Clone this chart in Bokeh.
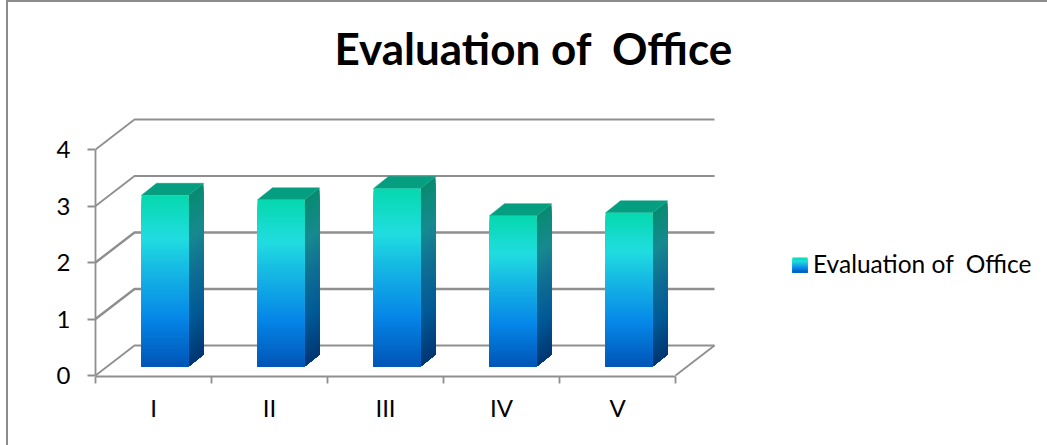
from bokeh.plotting import figure
from bokeh.models import (FixedTicker, Legend, LegendItem, LinearAxis, Range1d)
from bokeh.core.properties import value
from bokeh.embed import file_html
from bokeh.resources import INLINE
import numpy as np

categories = ["I", "II", "III", "IV", "V"]
values = [3.03, 2.95, 3.15, 2.67, 2.72]
y_ticks = [0, 1, 2, 3, 4]
title_text = "Evaluation of  Office"

W, H = 1047, 445
L, R, T, B = 95, 1047, 0, 376
Y0 = 375.0
PX_X, PX_Y = 116.0, 56.5
GRID = "#8F8F8F"
TEXT = "#000000"
FONT = "Lato"

def X(px): return 0.5 + (px - L) / PX_X
def Y(px): return (Y0 - px) / PX_Y
dxw, dyw = 39 / PX_X, 30 / PX_Y          # wall depth
dxb, dyb = 11.5 / PX_X, 9 / PX_Y         # bar set-back
dxd, dyd = 15 / PX_X, 12 / PX_Y          # bar depth
half = 23.5 / PX_X

front_stops = [(0, "#05D8AE"), (.25, "#20DDE0"), (.47, "#14B2E4"), (.72, "#0586E8"), (1, "#0055B5")]
side_stops = [(0, "#078B70"), (.25, "#178A90"), (.47, "#0F6E94"), (.72, "#005A97"), (1, "#003672")]
top_color = "#069E80"

def rgb(h): return np.array([int(h[i:i+2], 16) for i in (1, 3, 5)], float)
def ramp(stops, f):
    fs = [s[0] for s in stops]
    cs = np.array([rgb(s[1]) for s in stops])
    c = [np.interp(f, fs, cs[:, k]) for k in range(3)]
    return "#%02x%02x%02x" % tuple(int(round(v)) for v in c)

p = figure(width=W, height=H, output_backend="svg", toolbar_location=None,
           x_range=Range1d(0.5, X(R)), y_range=Range1d(Y(B), Y(T)),
           min_border_left=L, min_border_right=0, min_border_top=T, min_border_bottom=H - B,
           outline_line_color=None, x_axis_type=None, y_axis_type=None, title=None,
           border_fill_color=None, background_fill_color=None)
# slide border: a thin grey rule down the left and along the top of the page
p.styles = {
    "background-image": "linear-gradient(#8C8C8C,#8C8C8C),linear-gradient(#8C8C8C,#8C8C8C)",
    "background-size": "2px 100%,100% 2px",
    "background-position": "6px 1px,6px 0px",
    "background-repeat": "no-repeat",
}
p.grid.visible = False

# walls and gridlines
n_cat = len(categories)
x_start, x_end = 0.5, 0.5 + n_cat
for v in y_ticks:
    wid = 1.8 if v in (0, 3, 4) else 2.4
    p.line([x_start, x_start + dxw, x_end + dxw], [v, v + dyw, v + dyw], line_color=GRID, line_width=wid)
p.line([x_end, x_end + dxw], [0, dyw], line_color=GRID, line_width=1.8)

# bars: each band runs from its top down to the bar foot, so later bands overpaint without seams
N = 60
fl, fr, ft, fb, fc = [], [], [], [], []
sx, sy, sc = [], [], []
tx, ty = [], []
for i, v in enumerate(values):
    xc = i + 1 + dxb
    x0, x1 = xc - half, xc + half
    y0 = dyb
    y1 = dyb + v
    for k in range(N):
        a = k / N
        ya = y1 - (y1 - y0) * a
        fl.append(x0); fr.append(x1); ft.append(ya); fb.append(y0)
        fc.append(ramp(front_stops, a + 0.5 / N))
        sx.append([x1, x1 + dxd, x1 + dxd, x1])
        sy.append([ya, ya + dyd, y0 + dyd, y0])
        sc.append(ramp(side_stops, a + 0.5 / N))
    tx.append([x0, x0 + dxd, x1 + dxd, x1])
    ty.append([y1, y1 + dyd, y1 + dyd, y1])

p.patches(sx, sy, fill_color=sc, line_color=None)
p.patches(tx, ty, fill_color=top_color, line_color=top_color, line_width=0.5)
bars = p.quad(left=fl, right=fr, top=ft, bottom=fb, fill_color=fc, line_color=None)

# axes
yax = LinearAxis(ticker=FixedTicker(ticks=y_ticks), bounds=(0, 4), axis_line_color=GRID, axis_line_width=1.8,
                 major_tick_line_color=GRID, major_tick_line_width=1.8, major_tick_in=0, major_tick_out=8,
                 minor_tick_line_color=None, major_label_text_font=FONT, major_label_text_font_size="24px",
                 major_label_text_color=TEXT, major_label_standoff=17)
p.add_layout(yax, "left")

edges = [0.5 + k for k in range(n_cat + 1)]
xax = LinearAxis(ticker=FixedTicker(ticks=edges), bounds=(x_start, x_end), axis_line_color=GRID, axis_line_width=1.8,
                 major_tick_line_color=GRID, major_tick_line_width=1.8, major_tick_in=0, major_tick_out=7,
                 minor_tick_line_color=None, major_label_overrides={e: "" for e in edges},
                 major_label_text_font_size="1px", major_label_standoff=0)
p.add_layout(xax, "below")
centers = list(range(1, n_cat + 1))
xlab = LinearAxis(ticker=FixedTicker(ticks=centers), axis_line_color=None, major_tick_line_color=None,
                  minor_tick_line_color=None, major_label_overrides=dict(zip(centers, categories)),
                  major_label_text_font=FONT, major_label_text_font_size="24px",
                  major_label_text_color=TEXT, major_label_standoff=3)
p.add_layout(xlab, "below")

# title: a no-break space keeps the double gap that SVG text would otherwise collapse
p.text(x=[X(334)], y=[Y(47)], text=[title_text.replace("  ", " \u00a0")], text_font=value(FONT),
       text_font_style="bold", text_font_size="44px", text_color=TEXT,
       text_align="left", text_baseline="alphabetic")

# legend: the swatch is painted by gradient bands; the legend's own glyph is transparent
M = 15
for k in range(M):
    c = ramp(front_stops, (k + 0.5) / M)
    p.quad(left=[X(792)], right=[X(807)], top=[Y(257 + k)], bottom=[Y(272)],
           fill_color=c, line_color=None)
swatch = p.quad(left=[X(792)], right=[X(807)], top=[Y(257)], bottom=[Y(272)],
                fill_color=front_stops[1][1], fill_alpha=0, line_alpha=0)
legend = Legend(items=[LegendItem(label=title_text, renderers=[swatch])], location=(792 - L, B - 278),
                orientation="vertical", border_line_color=None, background_fill_alpha=0,
                padding=0, margin=0, glyph_width=15, glyph_height=15, label_standoff=6,
                label_text_font=FONT, label_text_font_size="24.5px", label_text_color=TEXT,
                label_height=15)
p.add_layout(legend, "center")

open("out.html", "w").write(file_html(p, INLINE))
